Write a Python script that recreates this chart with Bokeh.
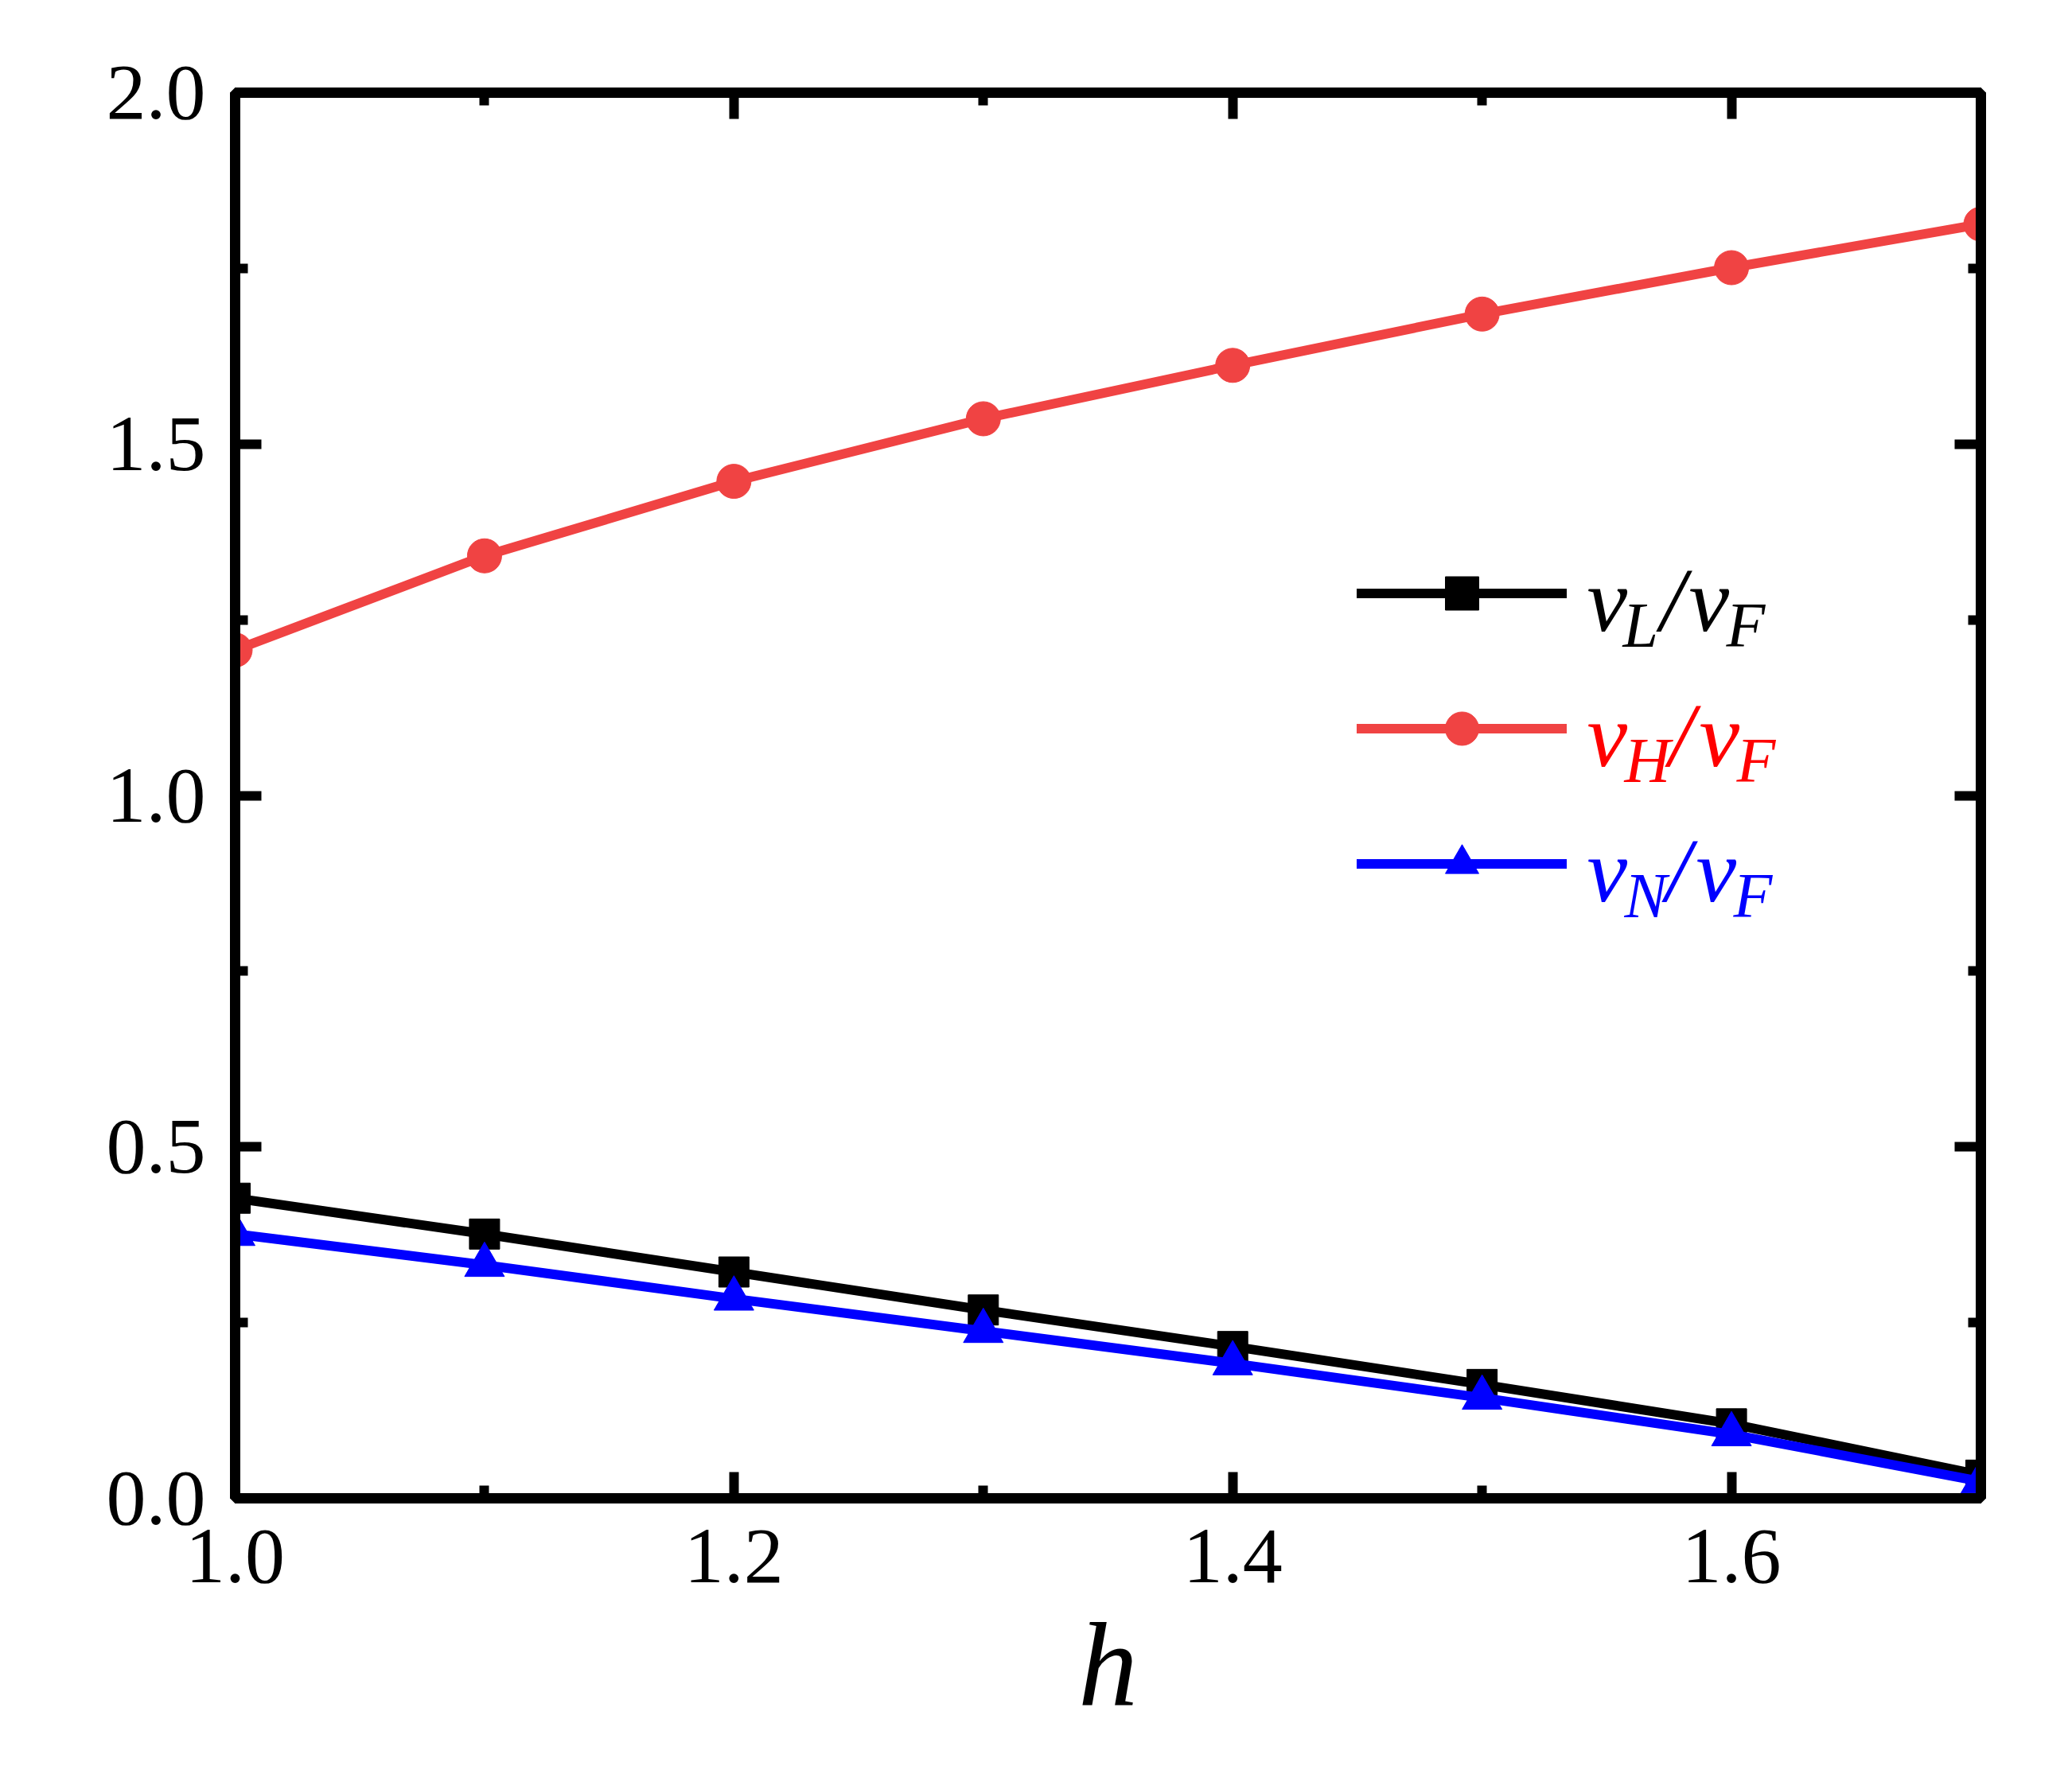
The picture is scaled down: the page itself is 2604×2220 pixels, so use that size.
from bokeh.plotting import figure
from bokeh.models import (Range1d, FixedTicker, NumeralTickFormatter, LinearAxis,
                          CustomJSTickFormatter, Legend, LegendItem, Label)
from bokeh.core.properties import value
from bokeh.embed import file_html
from bokeh.resources import INLINE

# ---------------- data ----------------
h_values = [1.0, 1.1, 1.2, 1.3, 1.4, 1.5, 1.6, 1.7]
vL_vF = [0.427, 0.376, 0.322, 0.268, 0.216, 0.162, 0.106, 0.033]
vH_vF = [1.207, 1.341, 1.447, 1.536, 1.612, 1.685, 1.751, 1.813]
vN_vF = [0.376, 0.332, 0.284, 0.238, 0.192, 0.143, 0.091, 0.024]

x_major_ticks = [1.0, 1.2, 1.4, 1.6]
x_minor_ticks = [1.1, 1.3, 1.5, 1.7]
y_major_ticks = [0.0, 0.5, 1.0, 1.5, 2.0]
y_minor_ticks = [0.25, 0.75, 1.25, 1.75]
x_label = "h"
subscripts = ["L", "H", "N"]

# ---------------- styles ----------------
FONT = "'Liberation Serif', 'Times New Roman', Tinos, serif"
LINE_COLORS = ["black", "#F04343", "#0000FF"]
TEXT_COLORS = ["black", "#FF0000", "#0000FF"]
MARKERS = ["square", "circle", "triangle"]
MARKER_SIZES = [38, 43, 50]
LW = 12

p = figure(x_range=Range1d(1.0, 1.7), y_range=Range1d(0.0, 2.0),
           frame_width=2194, frame_height=1767,
           min_border_left=295, min_border_top=116,
           min_border_right=100, min_border_bottom=300,
           output_backend="svg", toolbar_location=None,
           x_axis_label=x_label)
p.xgrid.visible = False
p.ygrid.visible = False
p.background_fill_color = "white"
p.border_fill_color = "white"
p.outline_line_color = "black"
p.outline_line_width = 13


def style_axis(ax, show_labels=True):
    ax.major_tick_in = 33
    ax.major_tick_out = 0
    ax.minor_tick_in = 16
    ax.minor_tick_out = 0
    ax.major_tick_line_width = 12
    ax.minor_tick_line_width = 12
    ax.major_tick_line_color = "black"
    ax.minor_tick_line_color = "black"
    ax.axis_line_width = 13
    ax.axis_line_color = "black"
    ax.major_label_text_font = FONT
    ax.major_label_text_font_size = "100px"
    ax.major_label_text_color = "black"
    if not show_labels:
        ax.formatter = CustomJSTickFormatter(code="return ''")


xt = FixedTicker(ticks=x_major_ticks, minor_ticks=x_minor_ticks)
yt = FixedTicker(ticks=y_major_ticks, minor_ticks=y_minor_ticks)

xa = p.xaxis[0]
xa.ticker = xt
xa.formatter = NumeralTickFormatter(format="0.0")
style_axis(xa)
xa.major_label_standoff = 40
xa.axis_label_text_font = FONT
xa.axis_label_text_font_style = "italic"
xa.axis_label_text_font_size = "150px"
xa.axis_label_text_color = "black"
xa.axis_label_standoff = 17

ya = p.yaxis[0]
ya.ticker = yt
ya.formatter = NumeralTickFormatter(format="0.0")
style_axis(ya)
ya.major_label_standoff = 37

top = LinearAxis(ticker=FixedTicker(ticks=x_major_ticks, minor_ticks=x_minor_ticks))
style_axis(top, show_labels=False)
p.add_layout(top, "above")
right = LinearAxis(ticker=FixedTicker(ticks=y_major_ticks, minor_ticks=y_minor_ticks))
style_axis(right, show_labels=False)
p.add_layout(right, "right")

# ---------------- series ----------------
items = []
for ys, lc, mk, ms in zip([vL_vF, vH_vF, vN_vF], LINE_COLORS, MARKERS, MARKER_SIZES):
    lr = p.line(h_values, ys, line_color=lc, line_width=LW,
                line_join="round", line_cap="round")
    sr = p.scatter(h_values, ys, marker=mk, size=ms,
                   fill_color=lc, line_color=lc, line_width=1)
    items.append(LegendItem(label=value(""), renderers=[lr, sr]))

legend = Legend(items=items, location=(1410, 745), orientation="vertical",
                glyph_width=264, glyph_height=105, spacing=65,
                padding=0, margin=0, label_standoff=0,
                label_width=0, label_height=0,
                border_line_color=None, background_fill_alpha=0)
p.add_layout(legend)

# legend texts: v_X / v_F with italic subscripts (frame-relative screen units)
MAIN = "114px"
SUB = "80px"
DY = 30
DX = -6
rows = [
    # (v x, v baseline, sub x, sub baseline, slash x, v2 x, F x)
    (1705, 1099, 1750, 1068, 1797, 1833, 1880),
    (1705, 929, 1752, 898, 1808, 1846, 1893),
    (1705, 759, 1752, 728, 1804, 1842, 1889),
]


def piece(txt, x, y, size, color):
    p.add_layout(Label(x=x + DX, y=y + DY, x_units="screen", y_units="screen", text=txt,
                       text_font=FONT, text_font_style="italic",
                       text_font_size=size, text_color=color,
                       text_align="left", text_baseline="alphabetic"))


for sub, color, (vx, vy, sx, sy, slx, v2x, fx) in zip(subscripts, TEXT_COLORS, rows):
    piece("v", vx, vy, MAIN, color)
    piece(sub, sx, sy, SUB, color)
    piece("/", slx, vy, MAIN, color)
    piece("v", v2x, vy, MAIN, color)
    piece("F", fx, sy, SUB, color)

open("out.html", "w").write(file_html(p, INLINE))
